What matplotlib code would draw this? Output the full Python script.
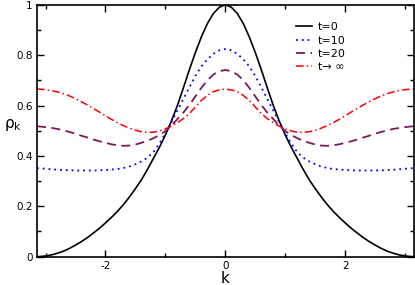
import numpy as np
import matplotlib
matplotlib.use('Agg')
import matplotlib.pyplot as plt
from matplotlib.ticker import MultipleLocator

# k >= 0 half of each curve; the curves are symmetric in k
k_half = [0.0, 0.1, 0.2, 0.3, 0.4, 0.5, 0.6, 0.7, 0.8, 0.9, 1.0,
          1.1, 1.2, 1.3, 1.4, 1.5, 1.6, 1.7, 1.8, 1.9, 2.0,
          2.1, 2.2, 2.3, 2.4, 2.5, 2.6, 2.7, 2.8, 2.9, 3.0, 3.1, np.pi]
rho_t0 = [1.0, 0.99, 0.965, 0.925, 0.872, 0.81, 0.742, 0.67, 0.60, 0.538, 0.483,
          0.434, 0.39, 0.346, 0.305, 0.27, 0.237, 0.207, 0.18, 0.156, 0.134,
          0.113, 0.094, 0.076, 0.06, 0.046, 0.033, 0.022, 0.014, 0.007, 0.003, 0.0005, 0.0]
rho_t10 = [0.824, 0.819, 0.805, 0.783, 0.755, 0.717, 0.672, 0.626, 0.58, 0.534, 0.49,
           0.449, 0.415, 0.393, 0.378, 0.367, 0.358, 0.352, 0.348, 0.346, 0.344,
           0.343, 0.342, 0.342, 0.342, 0.342, 0.343, 0.344, 0.345, 0.347, 0.349, 0.351, 0.351]
rho_t20 = [0.741, 0.736, 0.723, 0.70, 0.67, 0.636, 0.602, 0.572, 0.546, 0.52, 0.498,
           0.483, 0.47, 0.46, 0.452, 0.445, 0.441, 0.44, 0.442, 0.446, 0.452,
           0.458, 0.465, 0.473, 0.48, 0.488, 0.495, 0.501, 0.507, 0.511, 0.514, 0.517, 0.517]
rho_tinf = [0.665, 0.662, 0.655, 0.64, 0.62, 0.594, 0.568, 0.548, 0.532, 0.518, 0.507,
            0.499, 0.494, 0.493, 0.496, 0.502, 0.51, 0.52, 0.532, 0.545, 0.559,
            0.574, 0.588, 0.602, 0.615, 0.627, 0.638, 0.647, 0.654, 0.659, 0.663, 0.665, 0.665]

labels = ['t=0', 't=10', 't=20', 't→ ∞']


def full(vals):
    v = np.asarray(vals)
    return np.concatenate([v[:0:-1], v])


k = np.concatenate([-np.asarray(k_half)[:0:-1], np.asarray(k_half)])

fig = plt.figure(figsize=(4.15, 2.85), dpi=100)
ax = fig.add_axes([0.0892, 0.0993, 0.9076, 0.8842])

ax.plot(k, full(rho_t0), color='black', lw=1.2, label=labels[0])
ax.plot(k, full(rho_t10), color='#0000ff', lw=1.3, ls=(0, (1, 2.2)), label=labels[1])
ax.plot(k, full(rho_t20), color='#7a1a5e', lw=1.3, ls=(0, (5, 3)), label=labels[2])
ax.plot(k, full(rho_tinf), color='#ff0000', lw=1.1, ls=(0, (5, 2, 1, 2)), label=labels[3])

ax.set_xlim(-np.pi, np.pi)
ax.set_ylim(0, 1)
ax.xaxis.set_minor_locator(MultipleLocator(1))
ax.yaxis.set_minor_locator(MultipleLocator(0.1))
ax.set_yticks([0, 0.2, 0.4, 0.6, 0.8, 1.0])
ax.set_yticklabels(['0', '0.2', '0.4', '0.6', '0.8', '1'])
ax.set_xticks([-2, 0, 2])
ax.set_xticklabels(['-2', '0', '2'])
ax.tick_params(which='both', direction='in', top=True, right=True, labelsize=7.5, pad=3)
ax.tick_params(which='major', length=5, width=1)
ax.tick_params(which='minor', length=3, width=1)
for s in ax.spines.values():
    s.set_linewidth(1.2)

ax.set_xlabel('k', fontsize=11, labelpad=0)
ax.set_ylabel('ρ$_\\mathregular{k}$', fontsize=11, rotation=0)
ax.yaxis.set_label_coords(-0.065, 0.49)

ax.legend(loc='upper left', bbox_to_anchor=(0.66, 0.97), frameon=False, fontsize=8,
          handlelength=1.5, handletextpad=0.5, labelspacing=0.3)

fig.savefig('out.png', dpi=100)
